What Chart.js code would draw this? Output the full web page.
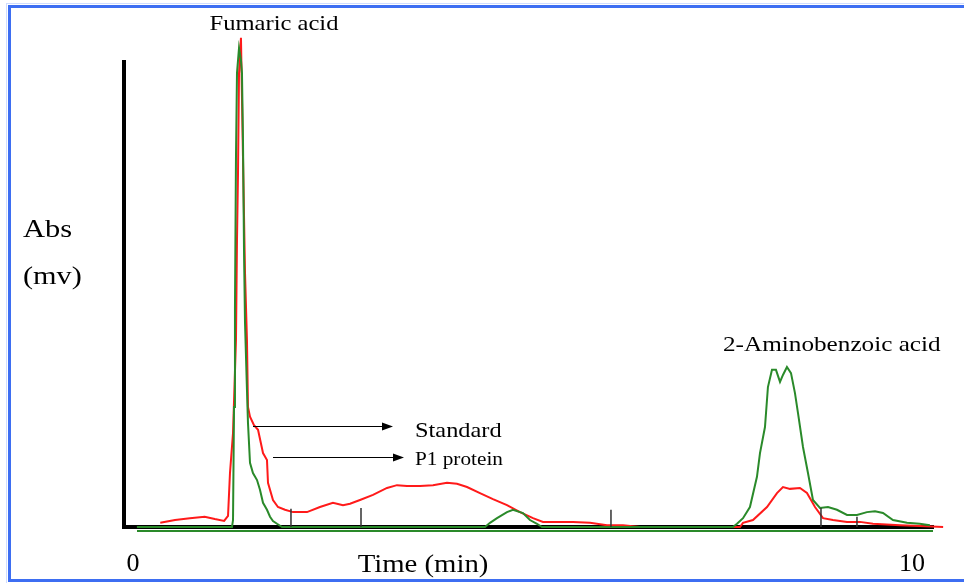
<!DOCTYPE html>
<html>
<head>
<meta charset="utf-8">
<script src="https://cdn.jsdelivr.net/npm/chart.js@4"></script>
<style>
  body { margin: 0; background: #fff; }
  canvas { display: block; }
</style>
</head>
<body>
<canvas id="chromatogram" width="964" height="583"></canvas>
<script>
// values: time in min, absorbance in mv (0..100 = axis height)
const redTime = [0.35, 0.54, 0.73, 0.92, 1.05, 1.17, 1.22, 1.245, 1.284, 1.322, 1.335, 1.348, 1.361, 1.386,
  1.412, 1.438, 1.463, 1.476, 1.502, 1.553, 1.605, 1.669, 1.72, 1.733, 1.797, 1.861, 1.951, 2.054, 2.234,
  2.4, 2.567, 2.696, 2.786, 2.914, 3.081, 3.261, 3.389, 3.517, 3.684, 3.851, 4.031, 4.159, 4.288, 4.454,
  4.621, 4.801, 4.968, 5.135, 5.263, 5.443, 5.648, 5.867, 6.085, 6.29, 6.508, 7.792, 7.831, 7.959, 8.139,
  8.267, 8.344, 8.434, 8.562, 8.652, 8.755, 8.858, 8.986, 9.166, 9.333, 9.499, 9.846, 10.1, 10.4];
const redAbs = [0.9, 1.5, 1.9, 2.2, 1.7, 1.3, 2.4, 11.6, 20.2, 40.2, 61.7, 76.1, 97.6, 105.2,
  79.6, 54.6, 40.2, 25.8, 23.7, 21.9, 20.9, 15.9, 14.4, 9.5, 5.8, 4.3, 3.7, 3.2, 3.2,
  4.3, 5.2, 4.7, 5.0, 5.8, 6.9, 8.4, 9.0, 8.8, 8.8, 9.0, 9.5, 9.3, 8.6, 7.3,
  6.0, 4.7, 3.2, 1.9, 1.1, 1.1, 1.1, 0.9, 0.4, 0.4, 0, 0, 0.9, 1.5, 4.3,
  7.3, 8.6, 8.2, 8.4, 7.3, 4.3, 1.9, 1.5, 1.1, 1.1, 0.7, 0.4, 0.2, 0];

const greenTime = [0.05, 1.271, 1.284, 1.297, 1.309, 1.322, 1.335, 1.361, 1.386, 1.399, 1.412, 1.425,
  1.438, 1.463, 1.476, 1.502, 1.54, 1.592, 1.63, 1.669, 1.72, 1.759, 1.797, 1.849, 1.913,
  4.519, 4.583, 4.673, 4.801, 4.878, 5.006, 5.096, 5.186, 5.25,
  7.702, 7.754, 7.831, 7.92, 8.01, 8.049, 8.113, 8.151, 8.203, 8.254, 8.306, 8.344, 8.395, 8.447,
  8.498, 8.537, 8.601, 8.665, 8.729, 8.819, 8.922, 9.037, 9.166, 9.294, 9.422, 9.525, 9.628,
  9.756, 9.936, 10.1, 10.23];
const greenAbs = [0, 0, 1.5, 25.8, 47.3, 79.6, 97.6, 103.0, 100.4, 97.6, 83.2, 59.6,
  43.9, 29.5, 22.4, 13.8, 11.6, 10.1, 8.0, 5.2, 3.7, 2.2, 1.3, 0.7, 0,
  0, 0.9, 1.9, 3.2, 3.7, 3.0, 1.5, 0.7, 0,
  0, 0.7, 1.9, 4.3, 10.8, 15.9, 21.5, 30.1, 33.8, 33.8, 31.2, 32.7, 34.4, 33.1,
  28.8, 24.5, 17.2, 11.6, 5.8, 4.1, 4.3, 3.7, 2.6, 2.6, 3.2, 3.4, 3.0,
  1.5, 0.9, 0.7, 0.4];

// integration markers
const markerTime = [2.028, 2.927, 6.136, 8.832, 9.294];
const markerAbs = [3.9, 4.1, 3.7, 4.1, 2.2];

const axisTicks = [0, 10];
const peakNames = ['Fumaric acid', '2-Aminobenzoic acid'];
const traceNames = ['Standard', 'P1 protein'];
const yTitle = ['Abs', '(mv)'];
const xTitle = 'Time (min)';

function toPoints(xs, ys) {
  return xs.map((x, i) => ({ x: x, y: ys[i] }));
}

const markerPoints = [];
markerTime.forEach((t, i) => {
  markerPoints.push({ x: t, y: 0 }, { x: t, y: markerAbs[i] }, { x: t, y: null });
});

function drawText(ctx, text, x, y, size, sx, align) {
  ctx.save();
  ctx.font = size + 'px "Liberation Serif"';
  ctx.textBaseline = 'middle';
  ctx.textAlign = 'left';
  const w = ctx.measureText(text).width * sx;
  const left = align === 'center' ? x - w / 2 : x;
  ctx.translate(left, y);
  ctx.scale(sx, 1);
  ctx.fillStyle = '#000';
  ctx.fillText(text, 0, 0);
  ctx.restore();
}

function drawArrow(ctx, x1, x2, y) {
  ctx.save();
  ctx.strokeStyle = '#000';
  ctx.fillStyle = '#000';
  ctx.lineWidth = 1;
  ctx.beginPath();
  ctx.moveTo(x1, y + 0.5);
  ctx.lineTo(x2 - 8, y + 0.5);
  ctx.stroke();
  ctx.beginPath();
  ctx.moveTo(x2, y + 0.5);
  ctx.lineTo(x2 - 11, y - 3.5);
  ctx.lineTo(x2 - 11, y + 4.5);
  ctx.closePath();
  ctx.fill();
  ctx.restore();
}

const frame = {
  id: 'frame',
  beforeDraw(chart) {
    const ctx = chart.ctx;
    ctx.save();
    ctx.fillStyle = '#fff';
    ctx.fillRect(0, 0, chart.width, chart.height);
    ctx.restore();
  },
  afterDraw(chart) {
    const ctx = chart.ctx;
    const area = chart.chartArea;
    ctx.save();
    // blue frame
    ctx.strokeStyle = '#cfdcff';
    ctx.lineWidth = 1;
    ctx.strokeRect(6.5, 3.5, 970, 580);
    ctx.strokeStyle = '#3d6ef2';
    ctx.lineWidth = 3;
    ctx.beginPath();
    ctx.moveTo(964, 6.5);
    ctx.lineTo(9.5, 6.5);
    ctx.lineTo(9.5, 580.5);
    ctx.lineTo(964, 580.5);
    ctx.stroke();
    // green baseline just under the axis
    ctx.strokeStyle = '#2a8a2a';
    ctx.lineWidth = 2;
    ctx.beginPath();
    ctx.moveTo(137, area.bottom + 4);
    ctx.lineTo(area.right, area.bottom + 4);
    ctx.stroke();
    ctx.restore();

    drawText(ctx, peakNames[0], 274, 24, 21, 1.17, 'center');
    drawText(ctx, peakNames[1], 723, 345, 21, 1.2, 'left');
    drawText(ctx, traceNames[0], 415, 431, 21, 1.16, 'left');
    drawText(ctx, traceNames[1], 415, 460, 18, 1.18, 'left');
    drawText(ctx, yTitle[0], 23, 230, 25, 1.22, 'left');
    drawText(ctx, yTitle[1], 23, 277, 25, 1.21, 'left');
    drawText(ctx, xTitle, 423, 565, 25, 1.15, 'center');

    drawArrow(ctx, 253, 393, 426);
    drawArrow(ctx, 273, 404, 457);
  }
};

new Chart(document.getElementById('chromatogram'), {
  type: 'scatter',
  data: {
    datasets: [
      {
        label: 'markers',
        data: markerPoints,
        showLine: true,
        spanGaps: false,
        borderColor: '#333',
        borderWidth: 1.5,
        pointRadius: 0,
        order: 0
      },
      {
        label: 'Standard',
        data: toPoints(greenTime, greenAbs),
        showLine: true,
        borderColor: '#2a8a2a',
        borderWidth: 2,
        pointRadius: 0,
        clip: false,
        order: 1
      },
      {
        label: 'P1 protein',
        data: toPoints(redTime, redAbs),
        showLine: true,
        borderColor: '#ff1a1a',
        borderWidth: 2,
        pointRadius: 0,
        clip: false,
        order: 2
      }
    ]
  },
  options: {
    responsive: false,
    animation: false,
    devicePixelRatio: 1,
    layout: { padding: { left: 124, right: 31, top: 62, bottom: 0 } },
    plugins: {
      legend: { display: false },
      tooltip: { enabled: false }
    },
    scales: {
      x: {
        type: 'linear',
        min: -0.1155,
        max: 10.27,
        z: 1,
        grid: { display: false, drawTicks: false },
        border: { display: true, color: '#000', width: 4 },
        afterBuildTicks: (axis) => { axis.ticks = axisTicks.map(v => ({ value: v })); },
        afterFit: (scale) => { scale.height = 56; },
        ticks: {
          padding: 22,
          color: '#000',
          font: { family: 'Liberation Serif', size: 26 },
          maxRotation: 0,
          autoSkip: false
        }
      },
      y: {
        type: 'linear',
        min: 0,
        max: 100,
        z: 1,
        grid: { display: false, drawTicks: false },
        border: { display: true, color: '#000', width: 4 },
        afterFit: (scale) => { scale.width = 0; },
        ticks: { display: false }
      }
    }
  },
  plugins: [frame]
});
</script>
</body>
</html>
